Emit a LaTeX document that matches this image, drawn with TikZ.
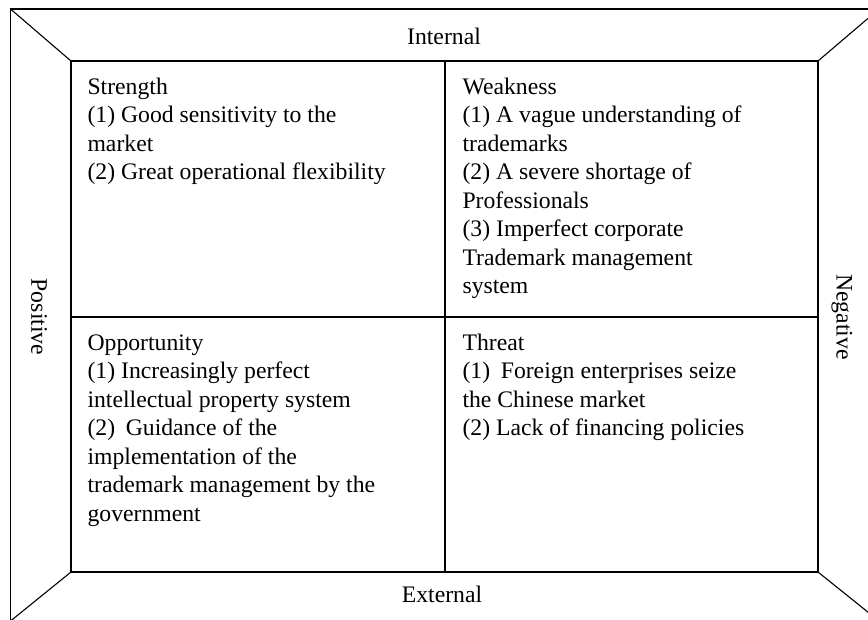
\documentclass[tikz,border=0pt]{standalone}
\usepackage{fontspec}
\setmainfont{Liberation Serif}
\begin{document}
\begin{tikzpicture}[x=1pt,y=-1pt,line width=1.1pt,
  lab/.style={font=\fontsize{23.7}{28.5}\selectfont,inner sep=0pt,text=black},
  cell/.style={lab,anchor=base west}]
\useasboundingbox (0,0) rectangle (868,619);
\clip (0,0) rectangle (868,619);
% outer frame corners
\coordinate (O1) at (10.5,9);
\coordinate (O2) at (879,9);
\coordinate (O3) at (879,621);
\coordinate (O4) at (10.5,621);
% inner box corners
\coordinate (I1) at (71,61);
\coordinate (I2) at (818,61);
\coordinate (I3) at (818,572);
\coordinate (I4) at (71,572);
\coordinate (Mt) at (445,61);
\coordinate (Mb) at (445,572);
\coordinate (Ml) at (71,317);
\coordinate (Mr) at (818,317);
\draw (O1) -- (O2) -- (O3) -- (O4) -- cycle;
\draw (I1) -- (I2) -- (I3) -- (I4) -- cycle;
\draw (O1) -- (I1) (O2) -- (I2) (O3) -- (I3) (O4) -- (I4);
\draw (Mt) -- (Mb) (Ml) -- (Mr);
% side labels
\node[lab,anchor=base] (int) at (444,44) {Internal};
\node[lab,anchor=base] (ext) at (442,602) {External};
\node[lab,rotate=-90] (pos) at (39,317) {Positive};
\node[lab,rotate=-90] (neg) at (842,317) {Negative};
% cells
\node[cell] (S) at (87,94) {\vtop{\hbox{Strength}\hbox{(1) Good sensitivity to the}\hbox{market}\hbox{(2) Great operational flexibility}}};
\node[cell] (W) at (462,94) {\vtop{\hbox{Weakness}\hbox{(1) A vague understanding of}\hbox{trademarks}\hbox{(2) A severe shortage of}\hbox{Professionals}\hbox{(3) Imperfect corporate}\hbox{Trademark management}\hbox{system}}};
\node[cell] (Op) at (87,350) {\vtop{\hbox{Opportunity}\hbox{(1) Increasingly perfect}\hbox{intellectual property system}\hbox{(2)\hspace{0.2em} Guidance of the}\hbox{implementation of the}\hbox{trademark management by the}\hbox{government}}};
\node[cell] (T) at (462,350) {\vtop{\hbox{Threat}\hbox{(1)\hspace{0.2em} Foreign enterprises seize}\hbox{the Chinese market}\hbox{(2) Lack of financing policies}}};
\end{tikzpicture}
\end{document}
